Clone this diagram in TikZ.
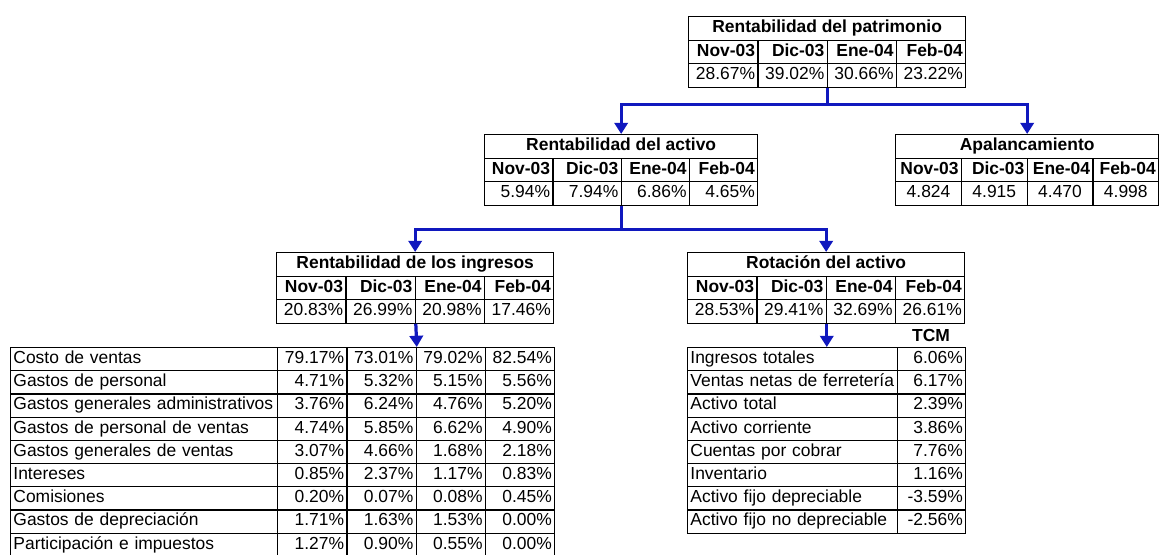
\documentclass[tikz,border=0pt]{standalone}
\usepackage{fontspec}
\setmainfont{Liberation Sans}
\usetikzlibrary{arrows.meta, positioning}
\definecolor{linkblue}{RGB}{16,24,190}

\begin{document}
\begin{tikzpicture}[x=0.025cm, y=-0.025cm,
	cell/.style={draw, line width=0.9pt, anchor=north west, inner xsep=2pt, inner ysep=0pt,
		text height=9pt, text depth=3pt, minimum height=0.5875cm, font=\fontsize{12.4}{14}\selectfont},
	ttl/.style={cell, font=\fontsize{12.4}{14}\selectfont\bfseries},
	hdr/.style={cell, font=\fontsize{12.4}{14}\selectfont\bfseries, align=right, text width=#1-4pt, minimum width=#1},
	num/.style={cell, align=right, text width=#1-4pt, minimum width=#1},
	mid/.style={cell, align=center, text width=#1-4pt, minimum width=#1},
	lbl/.style={cell, align=left, text width=#1-4pt, minimum width=#1, minimum height=0.58cm},
	link/.style={draw=linkblue, line width=2.3pt, -{Triangle[length=8pt, width=9.5pt]}}]
	\useasboundingbox (0,0) rectangle (1159,554);

	\node[ttl, minimum width=4*1.73125cm] (patri) at (688,16) {Rentabilidad del patrimonio};
	\foreach \m/\v [count=\i from 0] in {Nov-03/28.67, Dic-03/39.02, Ene-04/30.66, Feb-04/23.22} {
		\node[hdr=1.73125cm] (patri-h\i) at (688+\i*69.25,39.5) {\m};
		\node[num=1.73125cm] (patri-v\i) at (688+\i*69.25,63) {\v\%};
	}

	\node[ttl, minimum width=4*1.70625cm] (activo) at (484,134) {Rentabilidad del activo};
	\foreach \m/\v [count=\i from 0] in {Nov-03/5.94, Dic-03/7.94, Ene-04/6.86, Feb-04/4.65} {
		\node[hdr=1.70625cm] (activo-h\i) at (484+\i*68.25,157.5) {\m};
		\node[num=1.70625cm] (activo-v\i) at (484+\i*68.25,181) {\v\%};
	}

	\node[ttl, minimum width=4*1.64375cm] (apal) at (895,134) {Apalancamiento};
	\foreach \m/\v [count=\i from 0] in {Nov-03/4.824, Dic-03/4.915, Ene-04/4.470, Feb-04/4.998} {
		\node[hdr=1.64375cm] (apal-h\i) at (895+\i*65.75,157.5) {\m};
		\node[mid=1.64375cm] (apal-v\i) at (895+\i*65.75,181) {\v};
	}

	\node[ttl, minimum width=4*1.73125cm] (ingr) at (276,252) {Rentabilidad de los ingresos};
	\foreach \m/\v [count=\i from 0] in {Nov-03/20.83, Dic-03/26.99, Ene-04/20.98, Feb-04/17.46} {
		\node[hdr=1.73125cm] (ingr-h\i) at (276+\i*69.25,275.5) {\m};
		\node[num=1.73125cm] (ingr-v\i) at (276+\i*69.25,299) {\v\%};
	}

	\node[ttl, minimum width=4*1.73125cm] (rot) at (687,252) {Rotación del activo};
	\foreach \m/\v [count=\i from 0] in {Nov-03/28.53, Dic-03/29.41, Ene-04/32.69, Feb-04/26.61} {
		\node[hdr=1.73125cm] (rot-h\i) at (687+\i*69.25,275.5) {\m};
		\node[num=1.73125cm] (rot-v\i) at (687+\i*69.25,299) {\v\%};
	}

	% costs under the income table
	\foreach \lab/\a/\b/\c/\d [count=\r from 0] in {
		Costo de ventas/79.17/73.01/79.02/82.54,
		Gastos de personal/4.71/5.32/5.15/5.56,
		Gastos generales administrativos/3.76/6.24/4.76/5.20,
		Gastos de personal de ventas/4.74/5.85/6.62/4.90,
		Gastos generales de ventas/3.07/4.66/1.68/2.18,
		Intereses/0.85/2.37/1.17/0.83,
		Comisiones/0.20/0.07/0.08/0.45,
		Gastos de depreciación/1.71/1.63/1.53/0.00,
		Participación e impuestos/1.27/0.90/0.55/0.00} {
		\node[lbl=6.675cm] (cl\r) at (10,347+\r*23.2) {\lab};
		\foreach \v [count=\i from 0] in {\a,\b,\c,\d}
			\node[num=1.73125cm, minimum height=0.58cm] (cv\r-\i) at (277+\i*69.25,347+\r*23.2) {\v\%};
	}

	% growth rates under the asset turnover table
	\node[font=\fontsize{12.4}{14}\selectfont\bfseries] (tcm) at (931,335) {TCM};
	\foreach \lab/\v [count=\r from 0] in {Ingresos totales/6.06, Ventas netas de ferretería/6.17,
		Activo total/2.39, Activo corriente/3.86, Cuentas por cobrar/7.76, Inventario/1.16,
		Activo fijo depreciable/-3.59, Activo fijo no depreciable/-2.56} {
		\node[lbl=5.25cm] (tl\r) at (687,347+\r*23.2) {\lab};
		\node[num=1.7cm, minimum height=0.58cm] (tv\r) at (897,347+\r*23.2) {\v\%};
	}

	\draw[link] (patri-v1.south east) -- ++(0,17) -| (activo.north);
	\draw[link] (patri-v1.south east) -- ++(0,17) -| (apal.north);
	\draw[link] (activo-v1.south east) -- ++(0,24) -| (ingr.north);
	\draw[link] (activo-v1.south east) -- ++(0,24) -| (rot.north);
	\draw[link] (ingr-v1.south east) -- (cv0-1.north east);
	\draw[link] (rot-v1.south east) -- (rot-v1.south east |- tl0.north);
\end{tikzpicture}
\end{document}
